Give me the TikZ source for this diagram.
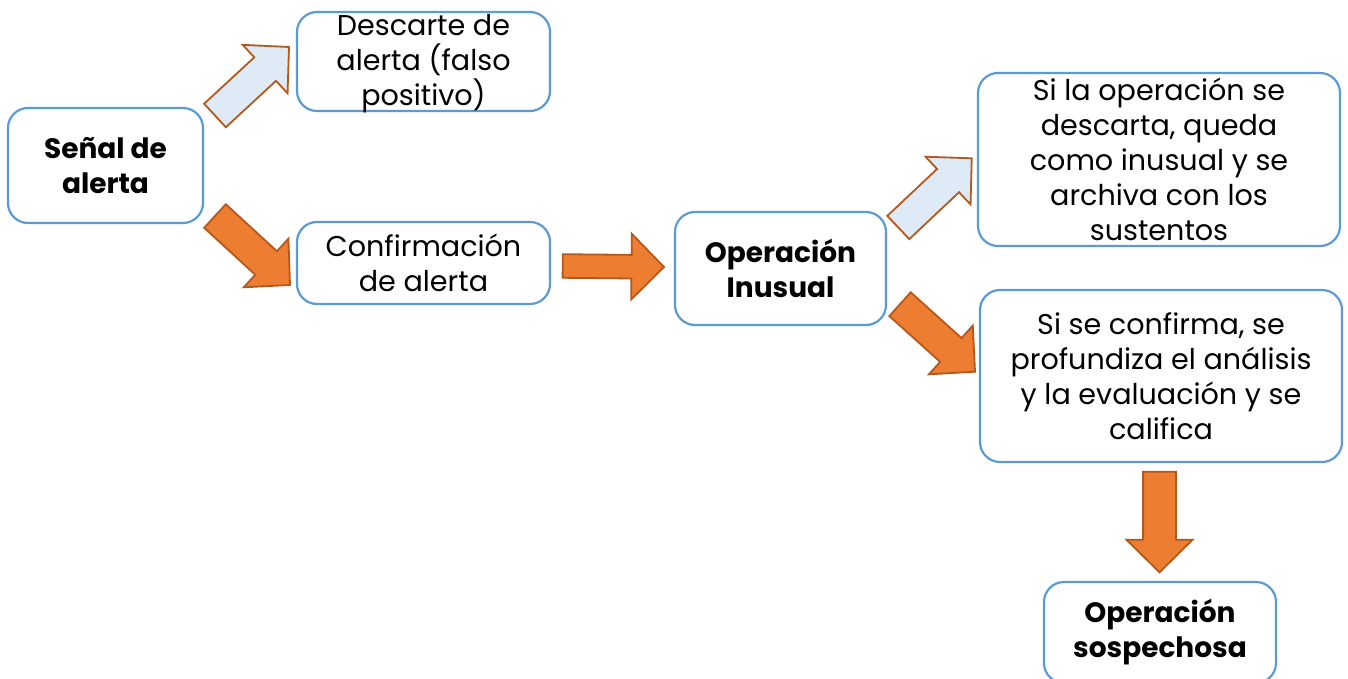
\documentclass[tikz,border=0pt]{standalone}
\usepackage{fontspec}
\setmainfont{Poppins}
\usetikzlibrary{calc}

\definecolor{boxblue}{HTML}{5B9BD5}
\definecolor{arroworange}{HTML}{ED7D31}
\definecolor{arrowedge}{HTML}{B5581C}
\definecolor{arrowblue}{HTML}{DEEBF7}

\tikzset{
  box/.style={draw=boxblue, line width=1.1pt, rounded corners=10pt, fill=white,
    align=center, inner sep=0pt, font=\fontsize{14.3}{17.5}\selectfont},
  boldbox/.style={box, font=\fontsize{14}{17.5}\selectfont\bfseries},
  boxtext/.style={align=center, inner sep=0pt, font=\fontsize{14.3}{17.5}\selectfont},
  orangearrow/.style={fill=arroworange, draw=arrowedge, line width=0.9pt},
  bluearrow/.style={fill=arrowblue, draw=arrowedge, line width=0.9pt}
}

% block arrow: style, tail, tip, shaft half width, head half width
\newcommand{\blockarrow}[5]{%
  \path ($(#3)!16.25pt!(#2)$) coordinate (hb);
  \draw[#1] ($(#2)!#4!90:(#3)$) -- ($(hb)!#4!90:(#3)$) -- ($(hb)!#5!90:(#3)$)
    -- (#3) -- ($(hb)!#5!-90:(#3)$) -- ($(hb)!#4!-90:(#3)$)
    -- ($(#2)!#4!-90:(#3)$) -- cycle;
}

\begin{document}
\begin{tikzpicture}[x=0.5pt,y=-0.5pt]
\useasboundingbox[fill=white] (0,0) rectangle (1348,679);

% boxes
\node[boldbox, minimum width=97.5pt, minimum height=57.5pt] (senal) at (105.5,165.5) {Señal de\\alerta};
\node[box, minimum width=126.5pt, minimum height=49.5pt] (descarte) at (423.5,61.5) {};
\node[boxtext] (descartetext) at (423.5,64) {Descarte de\\alerta (falso\\positivo)};
\node[box, minimum width=126.5pt, minimum height=41pt] (confirm) at (423.5,263) {Confirmación\\de alerta};
\node[boldbox, minimum width=105.5pt, minimum height=56.5pt] (inusual) at (780.5,268.5) {Operación\\Inusual};
\node[box, minimum width=181pt, minimum height=86.5pt] (archiva) at (1159,159.5) {Si la operación se\\descarta, queda\\como inusual y se\\archiva con los\\sustentos};
\node[box, minimum width=181pt, minimum height=86pt] (califica) at (1161,376) {Si se confirma, se\\profundiza el análisis\\y la evaluación y se\\califica};
\node[boldbox, minimum width=116pt, minimum height=50.5pt] (sospecha) at (1160,632.5) {Operación\\sospechosa};

% arrow ends
\coordinate (a1) at (215,115.5);  \coordinate (b1) at (289,47);
\coordinate (a2) at (215,216);    \coordinate (b2) at (290,285);
\coordinate (a3) at (562.7,266);  \coordinate (b3) at (664,267);
\coordinate (a4) at (898.3,227.5); \coordinate (b4) at (971.7,158.3);
\coordinate (a5) at (900,304.2);  \coordinate (b5) at (975,371.7);
\coordinate (a6) at (1159.5,471.7); \coordinate (b6) at (1159.5,572.3);

\blockarrow{bluearrow}{a1}{b1}{8pt}{16.5pt}
\blockarrow{orangearrow}{a2}{b2}{8pt}{16.5pt}
\blockarrow{orangearrow}{a3}{b3}{5.9pt}{16.4pt}
\blockarrow{bluearrow}{a4}{b4}{8pt}{16.4pt}
\blockarrow{orangearrow}{a5}{b5}{8pt}{16.4pt}
\blockarrow{orangearrow}{a6}{b6}{8.2pt}{16.5pt}
\end{tikzpicture}
\end{document}
